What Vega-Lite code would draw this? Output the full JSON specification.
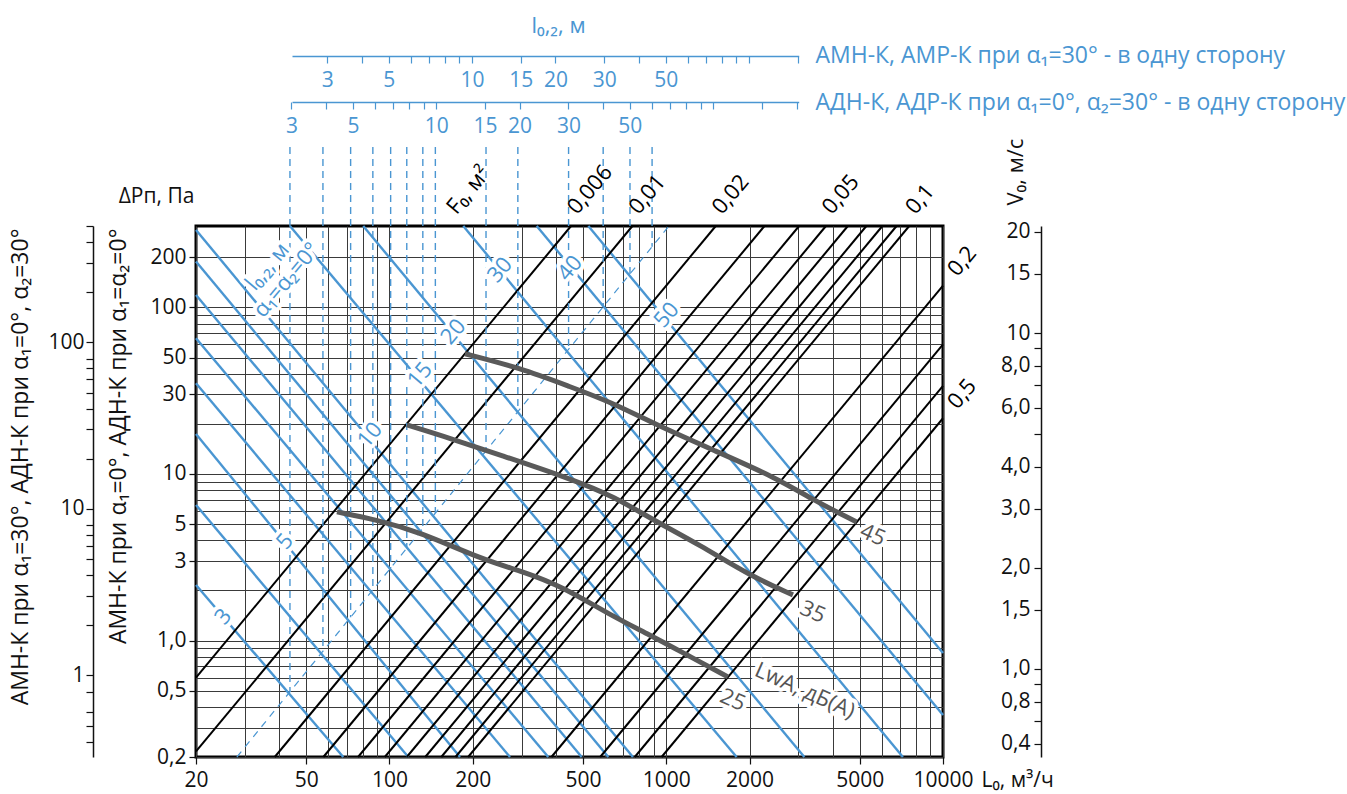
{
  "$schema": "https://vega.github.io/schema/vega-lite/v6.json",
  "width": 747,
  "height": 531,
  "autosize": "none",
  "padding": {"left": 196, "top": 226, "right": 404, "bottom": 37},
  "config": {
    "font": "Open Sans",
    "view": {"stroke": "black", "strokeWidth": 3},
    "axis": {"labelFont": "Open Sans", "titleFont": "Open Sans", "labelFontSize": 21, "titleFontSize": 23, "titleFontWeight": "normal", "labelColor": "#111", "titleColor": "#111", "tickColor": "#111", "domainColor": "#111", "labelFlush": false, "labelOverlap": false, "grid": false},
    "text": {"font": "Open Sans"}
  },
  "datasets": {
    "black": [
      {"fo": "0.006", "L": 20, "dp": 0.6}, {"fo": "0.006", "L": 453, "dp": 308},
      {"fo": "0.01", "L": 20, "dp": 0.216}, {"fo": "0.01", "L": 755, "dp": 308},
      {"fo": "0.02", "L": 38.5, "dp": 0.2}, {"fo": "0.02", "L": 1510, "dp": 308},
      {"fo": "0.03", "L": 57.7, "dp": 0.2}, {"fo": "0.03", "L": 2265, "dp": 308},
      {"fo": "0.04", "L": 77, "dp": 0.2}, {"fo": "0.04", "L": 3021, "dp": 308},
      {"fo": "0.05", "L": 96.2, "dp": 0.2}, {"fo": "0.05", "L": 3776, "dp": 308},
      {"fo": "0.06", "L": 115.5, "dp": 0.2}, {"fo": "0.06", "L": 4531, "dp": 308},
      {"fo": "0.07", "L": 134.7, "dp": 0.2}, {"fo": "0.07", "L": 5286, "dp": 308},
      {"fo": "0.08", "L": 153.9, "dp": 0.2}, {"fo": "0.08", "L": 6041, "dp": 308},
      {"fo": "0.09", "L": 173.2, "dp": 0.2}, {"fo": "0.09", "L": 6796, "dp": 308},
      {"fo": "0.1", "L": 192.4, "dp": 0.2}, {"fo": "0.1", "L": 7551, "dp": 308},
      {"fo": "0.2", "L": 384.8, "dp": 0.2}, {"fo": "0.2", "L": 10000, "dp": 135},
      {"fo": "0.3", "L": 577.3, "dp": 0.2}, {"fo": "0.3", "L": 10000, "dp": 60},
      {"fo": "0.4", "L": 769.7, "dp": 0.2}, {"fo": "0.4", "L": 10000, "dp": 33.8},
      {"fo": "0.5", "L": 962.1, "dp": 0.2}, {"fo": "0.5", "L": 10000, "dp": 21.6}
    ],
    "blue": [
      {"l": "3", "L": 20, "dp": 2.157}, {"l": "3", "L": 68.1, "dp": 0.2},
      {"l": "4", "L": 20, "dp": 6.52}, {"l": "4", "L": 117, "dp": 0.2},
      {"l": "5", "L": 20, "dp": 17.39}, {"l": "5", "L": 179.8, "dp": 0.2},
      {"l": "6", "L": 20, "dp": 35}, {"l": "6", "L": 272.6, "dp": 0.2},
      {"l": "7", "L": 20, "dp": 65.3}, {"l": "7", "L": 374.8, "dp": 0.2},
      {"l": "8", "L": 20, "dp": 118.8}, {"l": "8", "L": 494.9, "dp": 0.2},
      {"l": "9", "L": 20, "dp": 188.3}, {"l": "9", "L": 617.6, "dp": 0.2},
      {"l": "10", "L": 20, "dp": 291.6}, {"l": "10", "L": 758, "dp": 0.2},
      {"l": "15", "L": 43.7, "dp": 308}, {"l": "15", "L": 1796, "dp": 0.2},
      {"l": "20", "L": 80.4, "dp": 308}, {"l": "20", "L": 3155, "dp": 0.2},
      {"l": "30", "L": 184.8, "dp": 308}, {"l": "30", "L": 7163, "dp": 0.2},
      {"l": "40", "L": 340.4, "dp": 308}, {"l": "40", "L": 10000, "dp": 0.357},
      {"l": "50", "L": 523, "dp": 308}, {"l": "50", "L": 10000, "dp": 0.843}
    ],
    "diag": [{"L": 28.1, "dp": 0.2}, {"L": 1023, "dp": 308}],
    "vert": [
      {"l": 3, "L": 43.7, "lo": 0.492, "hi": 918},
      {"l": 4, "L": 57.5, "lo": 0.862, "hi": 918},
      {"l": 5, "L": 72.4, "lo": 1.381, "hi": 918},
      {"l": 6, "L": 87.1, "lo": 2.014, "hi": 918},
      {"l": 7, "L": 101, "lo": 2.725, "hi": 918},
      {"l": 8, "L": 115.5, "lo": 3.584, "hi": 918},
      {"l": 9, "L": 132, "lo": 4.711, "hi": 918},
      {"l": 10, "L": 146.5, "lo": 5.821, "hi": 918},
      {"l": 15, "L": 223.3, "lo": 13.75, "hi": 918},
      {"l": 20, "L": 291, "lo": 23.64, "hi": 918},
      {"l": 30, "L": 443.8, "lo": 55.94, "hi": 918},
      {"l": 40, "L": 591.8, "lo": 100.6, "hi": 918},
      {"l": 50, "L": 739.7, "lo": 158.8, "hi": 918},
      {"l": 60, "L": 889, "lo": 231.2, "hi": 918}
    ],
    "curves": [
      {"lwa": "25", "L": 64.6, "dp": 5.92}, {"lwa": "25", "L": 90.1, "dp": 5.3}, {"lwa": "25", "L": 128.9, "dp": 4.49}, {"lwa": "25", "L": 217.8, "dp": 3.05}, {"lwa": "25", "L": 303.6, "dp": 2.6}, {"lwa": "25", "L": 423.6, "dp": 2.1}, {"lwa": "25", "L": 626.2, "dp": 1.425}, {"lwa": "25", "L": 873.6, "dp": 1.08}, {"lwa": "25", "L": 1188, "dp": 0.82}, {"lwa": "25", "L": 1671, "dp": 0.605},
      {"lwa": "35", "L": 115.7, "dp": 19.7}, {"lwa": "35", "L": 165.4, "dp": 16.4}, {"lwa": "35", "L": 250.8, "dp": 13}, {"lwa": "35", "L": 449, "dp": 9.4}, {"lwa": "35", "L": 650, "dp": 7.3}, {"lwa": "35", "L": 895, "dp": 5.3}, {"lwa": "35", "L": 1324, "dp": 3.75}, {"lwa": "35", "L": 2006, "dp": 2.45}, {"lwa": "35", "L": 2870, "dp": 1.88},
      {"lwa": "45", "L": 187.4, "dp": 52.7}, {"lwa": "45", "L": 296.2, "dp": 43.3}, {"lwa": "45", "L": 449, "dp": 33.4}, {"lwa": "45", "L": 626, "dp": 27.2}, {"lwa": "45", "L": 949, "dp": 19.24}, {"lwa": "45", "L": 1475, "dp": 13.94}, {"lwa": "45", "L": 2506, "dp": 9.47}, {"lwa": "45", "L": 3388, "dp": 6.99}, {"lwa": "45", "L": 4876, "dp": 5.15}
    ],
    "bluelab": [
      {"t": "3", "L": 25.1, "dp": 1.393}, {"t": "5", "L": 41.9, "dp": 3.93}, {"t": "10", "L": 85, "dp": 17.15}, {"t": "15", "L": 128.9, "dp": 39.3}, {"t": "20", "L": 170.1, "dp": 71.5}, {"t": "30", "L": 250.8, "dp": 167.8}, {"t": "40", "L": 449, "dp": 171.8}, {"t": "50", "L": 1003, "dp": 90.1}, {"t": "l₀,₂, м", "L": 36.2, "dp": 175.6}, {"t": "α₁=α₂=0°", "L": 42.5, "dp": 146.1}
    ],
    "curvelab": [
      {"t": "45", "L": 5584, "dp": 4.31}, {"t": "35", "L": 3388, "dp": 1.486}, {"t": "25", "L": 1742, "dp": 0.4406}, {"t": "LwA, дБ(A)", "L": 3170, "dp": 0.5}
    ],
    "toplab": [
      {"t": "F₀, м²", "L": 166, "dp": 308}, {"t": "0,006", "L": 453, "dp": 308}, {"t": "0,01", "L": 755, "dp": 308}, {"t": "0,02", "L": 1510, "dp": 308}, {"t": "0,05", "L": 3776, "dp": 308}, {"t": "0,1", "L": 7551, "dp": 308}
    ],
    "rightlab": [{"t": "0,2", "L": 10000, "dp": 135}, {"t": "0,5", "L": 10000, "dp": 21.6}],
    "one": [{"v": 1}]
  },
  "layer": [
    {
      "data": {"name": "blue"},
      "mark": {"type": "line", "color": "#4a96d2", "strokeWidth": 2.4},
      "encoding": {
        "x": {"field": "L", "type": "quantitative", "scale": {"type": "log", "domain": [20, 10000], "nice": false},
          "axis": {"orient": "bottom", "values": [20, 30, 40, 50, 60, 70, 80, 90, 100, 200, 300, 400, 500, 600, 700, 800, 900, 1000, 2000, 3000, 4000, 5000, 6000, 7000, 8000, 9000, 10000],
            "grid": true, "gridColor": "#3a3a3a", "gridWidth": 1, "domain": false, "tickSize": 7, "tickWidth": 1.2,
            "tickOpacity": {"condition": {"test": "indexof([20,50,100,200,500,1000,2000,5000,10000], datum.value) >= 0", "value": 1}, "value": 0},
            "labelExpr": "indexof([20,50,100,200,500,1000,2000,5000,10000], datum.value) >= 0 ? '' + datum.value : ''",
            "labelPadding": 16, "labelBaseline": "middle",
            "title": "L₀, м³/ч", "titleFontSize": 21, "titleX": 785, "titleY": 23, "titleAlign": "left", "titleBaseline": "middle", "titleAngle": 0}},
        "y": {"field": "dp", "type": "quantitative", "scale": {"type": "log", "domain": [0.2, 308], "nice": false},
          "axis": {"orient": "left", "values": [0.2, 0.3, 0.4, 0.5, 0.6, 0.7, 0.8, 0.9, 1, 2, 3, 4, 5, 6, 7, 8, 9, 10, 20, 30, 40, 50, 60, 70, 80, 90, 100, 200],
            "grid": true, "gridColor": "#3a3a3a", "gridWidth": 1, "domain": false, "tickSize": 7, "tickWidth": 1.2,
            "tickOpacity": {"condition": {"test": "indexof([0.2,0.5,1,3,5,10,30,50,100,200], datum.value) >= 0", "value": 1}, "value": 0},
            "labelExpr": "datum.value == 0.2 ? '0,2' : datum.value == 0.5 ? '0,5' : datum.value == 1 ? '1,0' : indexof([3,5,10,30,50,100,200], datum.value) >= 0 ? '' + datum.value : ''",
            "labelPadding": 3, "labelAlign": "right", "labelBaseline": "middle",
            "title": "АМН-К при α₁=0°, АДН-К при α₁=α₂=0°", "titleX": -78, "titleY": 2, "titleAngle": -90, "titleAlign": "right", "titleBaseline": "middle"}},
        "detail": {"field": "l", "type": "nominal"}
      }
    },
    {
      "data": {"name": "black"},
      "mark": {"type": "line", "color": "black", "strokeWidth": 2},
      "encoding": {
        "x": {"field": "L", "type": "quantitative", "scale": {"type": "log", "domain": [20, 10000], "nice": false}, "axis": null},
        "y": {"field": "dp", "type": "quantitative", "scale": {"type": "log", "domain": [0.2, 308], "nice": false}, "axis": null},
        "detail": {"field": "fo", "type": "nominal"}
      }
    },
    {
      "data": {"name": "diag"},
      "mark": {"type": "line", "color": "#4a96d2", "strokeWidth": 1.2, "strokeDash": [7, 6]},
      "encoding": {
        "x": {"field": "L", "type": "quantitative", "scale": {"type": "log", "domain": [20, 10000], "nice": false}, "axis": null},
        "y": {"field": "dp", "type": "quantitative", "scale": {"type": "log", "domain": [0.2, 308], "nice": false}, "axis": null}
      }
    },
    {
      "data": {"name": "vert"},
      "mark": {"type": "rule", "color": "#4a96d2", "strokeWidth": 1.4, "strokeDash": [7, 5]},
      "encoding": {
        "x": {"field": "L", "type": "quantitative", "scale": {"type": "log", "domain": [20, 10000], "nice": false}, "axis": null},
        "y": {"field": "hi", "type": "quantitative", "scale": {"type": "log", "domain": [0.2, 308], "nice": false}, "axis": null},
        "y2": {"field": "lo"}
      }
    },
    {
      "data": {"name": "curves"},
      "mark": {"type": "line", "color": "#5a5a5a", "strokeWidth": 5, "interpolate": "basis"},
      "encoding": {
        "x": {"field": "L", "type": "quantitative", "scale": {"type": "log", "domain": [20, 10000], "nice": false}, "axis": null},
        "y": {"field": "dp", "type": "quantitative", "scale": {"type": "log", "domain": [0.2, 308], "nice": false}, "axis": null},
        "detail": {"field": "lwa", "type": "nominal"}
      }
    },
    {
      "data": {"name": "bluelab"},
      "mark": {"type": "text", "fill": "white", "stroke": "white", "strokeWidth": 8, "strokeJoin": "round", "angle": -50, "fontSize": 22, "align": "center", "baseline": "middle"},
      "encoding": {
        "x": {"field": "L", "type": "quantitative", "scale": {"type": "log", "domain": [20, 10000], "nice": false}, "axis": null},
        "y": {"field": "dp", "type": "quantitative", "scale": {"type": "log", "domain": [0.2, 308], "nice": false}, "axis": null},
        "text": {"field": "t"}
      }
    },
    {
      "data": {"name": "bluelab"},
      "mark": {"type": "text", "fill": "#4a96d2", "angle": -50, "fontSize": 22, "align": "center", "baseline": "middle"},
      "encoding": {
        "x": {"field": "L", "type": "quantitative", "scale": {"type": "log", "domain": [20, 10000], "nice": false}, "axis": null},
        "y": {"field": "dp", "type": "quantitative", "scale": {"type": "log", "domain": [0.2, 308], "nice": false}, "axis": null},
        "text": {"field": "t"}
      }
    },
    {
      "data": {"name": "curvelab"},
      "mark": {"type": "text", "fill": "white", "stroke": "white", "strokeWidth": 8, "strokeJoin": "round", "angle": 24, "fontSize": 22, "align": "center", "baseline": "middle"},
      "encoding": {
        "x": {"field": "L", "type": "quantitative", "scale": {"type": "log", "domain": [20, 10000], "nice": false}, "axis": null},
        "y": {"field": "dp", "type": "quantitative", "scale": {"type": "log", "domain": [0.2, 308], "nice": false}, "axis": null},
        "text": {"field": "t"}
      }
    },
    {
      "data": {"name": "curvelab"},
      "mark": {"type": "text", "fill": "#555555", "angle": 24, "fontSize": 22, "align": "center", "baseline": "middle"},
      "encoding": {
        "x": {"field": "L", "type": "quantitative", "scale": {"type": "log", "domain": [20, 10000], "nice": false}, "axis": null},
        "y": {"field": "dp", "type": "quantitative", "scale": {"type": "log", "domain": [0.2, 308], "nice": false}, "axis": null},
        "text": {"field": "t"}
      }
    },
    {
      "data": {"name": "toplab"},
      "mark": {"type": "text", "fill": "black", "angle": -50, "fontSize": 22, "align": "left", "baseline": "alphabetic", "dx": 12, "dy": -2},
      "encoding": {
        "x": {"field": "L", "type": "quantitative", "scale": {"type": "log", "domain": [20, 10000], "nice": false}, "axis": null},
        "y": {"field": "dp", "type": "quantitative", "scale": {"type": "log", "domain": [0.2, 308], "nice": false}, "axis": null},
        "text": {"field": "t"}
      }
    },
    {
      "data": {"name": "rightlab"},
      "mark": {"type": "text", "fill": "black", "angle": -50, "fontSize": 22, "align": "center", "baseline": "middle", "dx": 31, "dy": -1},
      "encoding": {
        "x": {"field": "L", "type": "quantitative", "scale": {"type": "log", "domain": [20, 10000], "nice": false}, "axis": null},
        "y": {"field": "dp", "type": "quantitative", "scale": {"type": "log", "domain": [0.2, 308], "nice": false}, "axis": null},
        "text": {"field": "t"}
      }
    },
    {
      "data": {"name": "one"},
      "mark": {"type": "point", "opacity": 0},
      "encoding": {
        "y": {"field": "v", "type": "quantitative", "scale": {"type": "log", "domain": [0.324, 500], "nice": false},
          "axis": {"orient": "left", "offset": 103, "values": [0.4, 0.5, 0.6, 0.8, 1, 2, 3, 4, 5, 6, 7, 8, 10, 20, 30, 40, 50, 60, 70, 80, 100, 200, 300, 400, 500],
            "labelExpr": "indexof([1,10,100], datum.value) >= 0 ? '' + datum.value : ''",
            "tickSize": 7, "tickWidth": 1.2, "domainWidth": 1.5, "labelPadding": 2, "labelAlign": "right", "labelBaseline": "middle",
            "title": "АМН-К при α₁=30°, АДН-К при α₁=0°, α₂=30°", "titleX": -73, "titleY": 2, "titleAngle": -90, "titleAlign": "right", "titleBaseline": "middle"}}
      }
    },
    {
      "data": {"name": "one"},
      "mark": {"type": "point", "opacity": 0},
      "encoding": {
        "y": {"field": "v", "type": "quantitative", "scale": {"type": "log", "domain": [0.547, 20.83], "nice": false},
          "axis": {"orient": "left", "offset": -845, "values": [0.6, 0.7, 0.8, 0.9, 1, 1.5, 2, 3, 4, 5, 6, 7, 8, 9, 10, 15, 20],
            "labelExpr": "datum.value == 0.6 ? '0,4' : datum.value == 0.8 ? '0,8' : datum.value == 1 ? '1,0' : datum.value == 1.5 ? '1,5' : datum.value == 2 ? '2,0' : datum.value == 3 ? '3,0' : datum.value == 4 ? '4,0' : datum.value == 6 ? '6,0' : datum.value == 8 ? '8,0' : indexof([10,15,20], datum.value) >= 0 ? '' + datum.value : ''",
            "tickSize": 7, "tickWidth": 1.2, "domainWidth": 1.5, "labelPadding": 4, "labelAlign": "right", "labelBaseline": "middle",
            "title": "V₀, м/с", "titleFontSize": 22, "titleX": -26, "titleY": -21, "titleAngle": -90, "titleAlign": "left", "titleBaseline": "middle"}}
      }
    },
    {
      "data": {"name": "one"},
      "mark": {"type": "point", "opacity": 0},
      "encoding": {
        "x": {"field": "v", "type": "quantitative", "scale": {"type": "log", "domain": [1.0075, 501.6], "nice": false},
          "axis": {"orient": "bottom", "offset": -701, "values": [3, 4, 5, 6, 7, 8, 9, 10, 15, 20, 30, 40, 50, 60, 70, 80, 90, 100, 150],
            "labelExpr": "indexof([3,5,10,15,20,30,50], datum.value) >= 0 ? '' + datum.value : ''",
            "tickSize": 7, "tickWidth": 1.2, "labelPadding": 17, "labelBaseline": "middle",
            "labelColor": "#4a96d2", "tickColor": "#4a96d2", "domainColor": "#4a96d2", "domainWidth": 1.5, "domainDash": [0, 96, 506.7, 1000],
            "title": "АМН-К, АМР-К при α₁=30° - в одну сторону", "titleX": 619, "titleY": -1, "titleAngle": 0, "titleAlign": "left", "titleBaseline": "middle", "titleColor": "#4a96d2"}}
      }
    },
    {
      "data": {"name": "one"},
      "mark": {"type": "point", "opacity": 0},
      "encoding": {
        "x": {"field": "v", "type": "quantitative", "scale": {"type": "log", "domain": [1.3566, 675.9], "nice": false},
          "axis": {"orient": "bottom", "offset": -655, "values": [3, 4, 5, 6, 7, 8, 9, 10, 15, 20, 30, 40, 50, 60, 70, 80, 90, 100, 150, 200],
            "labelExpr": "indexof([3,5,10,15,20,30,50], datum.value) >= 0 ? '' + datum.value : ''",
            "tickSize": 7, "tickWidth": 1.2, "labelPadding": 17, "labelBaseline": "middle",
            "labelColor": "#4a96d2", "tickColor": "#4a96d2", "domainColor": "#4a96d2", "domainWidth": 1.5, "domainDash": [0, 96, 506.7, 1000],
            "title": "АДН-К, АДР-К при α₁=0°, α₂=30° - в одну сторону", "titleX": 619, "titleY": 0, "titleAngle": 0, "titleAlign": "left", "titleBaseline": "middle", "titleColor": "#4a96d2"}}
      }
    },
    {
      "data": {"name": "one"},
      "mark": {"type": "point", "opacity": 0},
      "encoding": {
        "x": {"field": "v", "type": "quantitative", "scale": {"type": "linear", "domain": [0, 2]},
          "axis": {"orient": "top", "offset": 0, "domain": false, "ticks": false, "labels": false, "grid": false,
            "title": "l₀,₂, м", "titleFontSize": 22, "titleX": 362, "titleY": -201, "titleAngle": 0, "titleAlign": "center", "titleBaseline": "middle", "titleColor": "#4a96d2"}}
      }
    },
    {
      "data": {"name": "one"},
      "mark": {"type": "point", "opacity": 0},
      "encoding": {
        "y": {"field": "v", "type": "quantitative", "scale": {"type": "linear", "domain": [0, 2]},
          "axis": {"orient": "left", "offset": 0, "domain": false, "ticks": false, "labels": false, "grid": false,
            "title": "ΔPп, Па", "titleFontSize": 21, "titleX": -40, "titleY": -30, "titleAngle": 0, "titleAlign": "center", "titleBaseline": "middle"}}
      }
    }
  ],
  "resolve": {"scale": {"x": "independent", "y": "independent"}, "axis": {"x": "independent", "y": "independent"}}
}
